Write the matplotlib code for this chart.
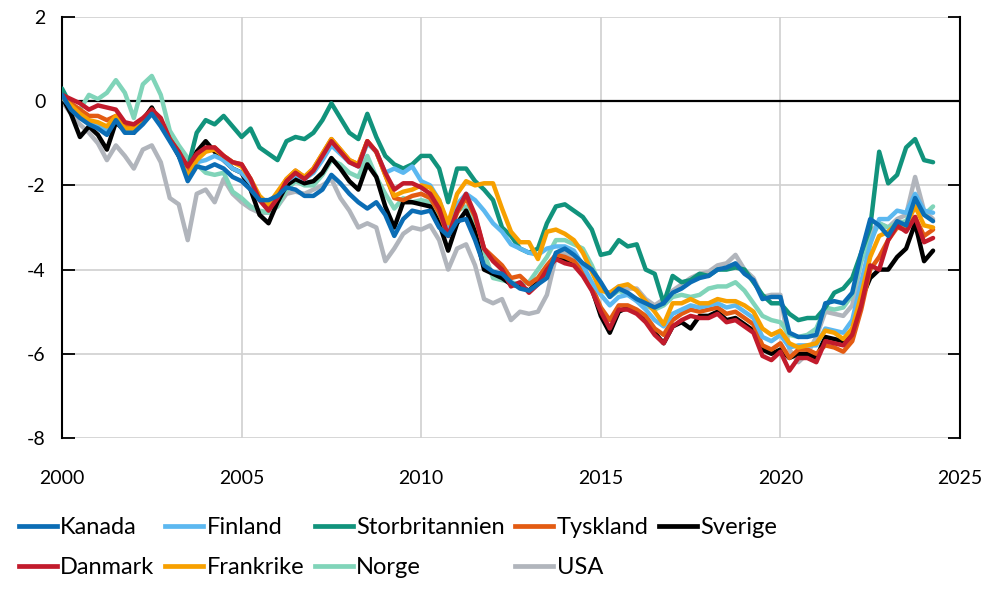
import numpy as np
import matplotlib
matplotlib.use("Agg")
import matplotlib.pyplot as plt
from matplotlib.lines import Line2D

# kvartalsvärden, 2000K1 .. 2024K2
quarters = 2000 + np.arange(98) / 4

kanada = [0.15, -0.2, -0.4, -0.55,  -0.65, -0.8, -0.45, -0.75,  -0.75, -0.55, -0.3, -0.6,
          -0.95, -1.3, -1.9, -1.55,  -1.6, -1.5, -1.6, -1.8,  -1.9, -2.1, -2.35, -2.35,
          -2.25, -2.05, -2.1, -2.25,  -2.25, -2.1, -1.75, -1.95,  -2.2, -2.4, -2.55, -2.4,
          -2.7, -3.2, -2.8, -2.6,  -2.65, -2.6, -3.0, -3.2,  -2.85, -2.8, -3.3, -3.9,
          -4.05, -4.1, -4.3, -4.45,  -4.5, -4.35, -4.2, -3.6,  -3.5, -3.65, -3.85, -4.0,
          -4.3, -4.65, -4.45, -4.55,  -4.7, -4.8, -4.9, -4.8,  -4.55, -4.45, -4.3, -4.2,
          -4.15, -4.0, -3.95, -3.85,  -4.1, -4.25, -4.7, -4.65,  -4.65, -5.5, -5.6, -5.6,
          -5.55, -4.8, -4.75, -4.8,  -4.55, -3.6, -2.8, -2.95,  -3.2, -2.85, -2.95, -2.3,
          -2.7, -2.85]

finland = [0.1, -0.15, -0.35, -0.5,  -0.55, -0.7, -0.4, -0.7,  -0.7, -0.5, -0.25, -0.55,
           -0.9, -1.25, -1.8, -1.45,  -1.4, -1.3, -1.4, -1.6,  -1.7, -1.95, -2.3, -2.4,
           -2.2, -1.9, -1.75, -1.85,  -1.7, -1.4, -1.05, -1.25,  -1.45, -1.55, -1.0, -1.2,
           -1.7, -1.6, -1.7, -1.55,  -1.9, -2.0, -2.35, -3.0,  -2.45, -2.2, -2.35, -2.6,
           -2.9, -3.1, -3.4, -3.5,  -3.6, -3.65, -3.5, -3.45,  -3.45, -3.55, -3.9, -4.3,
           -4.6, -4.85, -4.65, -4.6,  -4.75, -4.95, -5.2, -5.35,  -5.05, -4.95, -4.85, -4.9,
           -4.85, -4.8, -4.9, -4.85,  -5.0, -5.15, -5.6, -5.7,  -5.55, -5.85, -5.8, -5.8,
           -5.8, -5.4, -5.45, -5.5,  -5.2, -4.3, -3.4, -2.8,  -2.8, -2.6, -2.65, -2.2,
           -2.6, -2.65]

storbritannien = [0.3, -0.1, -0.3, -0.5,  -0.6, -0.7, -0.4, -0.65,  -0.7, -0.5, -0.25, -0.55,
                  -0.9, -1.25, -1.6, -0.75,  -0.45, -0.55, -0.35, -0.6,  -0.85, -0.65, -1.1, -1.25,
                  -1.4, -0.95, -0.85, -0.9,  -0.75, -0.45, -0.05, -0.4,  -0.75, -0.9, -0.3, -0.85,
                  -1.3, -1.5, -1.6, -1.5,  -1.3, -1.3, -1.6, -2.4,  -1.6, -1.6, -1.9, -2.1,
                  -2.35, -3.0, -3.2, -3.5,  -3.6, -3.5, -2.9, -2.5,  -2.45, -2.6, -2.75, -3.05,
                  -3.65, -3.6, -3.3, -3.45,  -3.4, -4.0, -4.1, -4.8,  -4.15, -4.3, -4.25, -4.1,
                  -4.15, -4.0, -4.0, -3.95,  -4.0, -4.3, -4.6, -4.8,  -4.8, -5.05, -5.2, -5.15,
                  -5.15, -4.9, -4.55, -4.45,  -4.2, -3.6, -3.0, -1.2,  -1.95, -1.75, -1.1, -0.9,
                  -1.4, -1.45]

tyskland = [0.1, -0.05, -0.2, -0.35,  -0.35, -0.45, -0.35, -0.6,  -0.6, -0.45, -0.2, -0.45,
            -0.9, -1.2, -1.65, -1.3,  -1.15, -1.1, -1.3, -1.45,  -1.5, -1.85, -2.3, -2.5,
            -2.2, -1.85, -1.65, -1.8,  -1.6, -1.25, -0.9, -1.15,  -1.4, -1.5, -0.95, -1.2,
            -1.75, -2.3, -2.35, -2.25,  -2.2, -2.3, -2.65, -3.2,  -2.65, -2.3, -2.75, -3.5,
            -3.7, -3.9, -4.2, -4.15,  -4.35, -4.2, -3.9, -3.65,  -3.7, -3.8, -4.05, -4.4,
            -4.9, -5.2, -4.85, -4.85,  -4.95, -5.1, -5.4, -5.55,  -5.2, -5.05, -4.95, -5.0,
            -4.95, -4.9, -5.05, -5.0,  -5.15, -5.3, -5.8, -5.9,  -5.75, -6.1, -5.9, -5.9,
            -6.0, -5.8, -5.85, -5.95,  -5.7, -4.95, -4.0, -3.7,  -3.3, -3.0, -3.05, -2.75,
            -3.2, -3.05]

sverige = [0.1, -0.3, -0.85, -0.6,  -0.8, -1.15, -0.5, -0.7,  -0.75, -0.45, -0.15, -0.55,
           -0.9, -1.3, -1.75, -1.2,  -0.95, -1.2, -1.4, -1.6,  -1.7, -2.1, -2.7, -2.9,
           -2.4, -2.0, -1.85, -1.95,  -1.9, -1.7, -1.35, -1.6,  -1.9, -2.1, -1.5, -1.8,
           -2.5, -3.0, -2.4, -2.4,  -2.45, -2.5, -2.9, -3.55,  -2.9, -2.6, -3.1, -4.0,
           -4.1, -4.2, -4.35, -4.4,  -4.5, -4.3, -4.0, -3.7,  -3.75, -3.85, -4.1, -4.45,
           -5.1, -5.5, -5.0, -4.9,  -5.0, -5.2, -5.5, -5.75,  -5.35, -5.25, -5.4, -5.1,
           -5.1, -5.0, -5.2, -5.15,  -5.3, -5.45, -5.9, -6.0,  -5.9, -6.1, -6.0, -6.0,
           -6.1, -5.6, -5.65, -5.7,  -5.45, -4.7, -4.2, -4.0,  -4.0, -3.7, -3.5, -2.9,
           -3.8, -3.55]

danmark = [0.15, 0.05, -0.05, -0.2,  -0.1, -0.15, -0.2, -0.5,  -0.55, -0.4, -0.2, -0.4,
           -0.9, -1.2, -1.55, -1.25,  -1.1, -1.1, -1.3, -1.45,  -1.5, -1.85, -2.35, -2.6,
           -2.3, -1.9, -1.7, -1.85,  -1.65, -1.3, -0.95, -1.2,  -1.45, -1.55, -0.95, -1.2,
           -1.7, -2.1, -1.95, -1.95,  -2.05, -2.2, -2.55, -3.2,  -2.6, -2.2, -2.7, -3.5,
           -3.8, -4.0, -4.4, -4.3,  -4.55, -4.35, -4.0, -3.75,  -3.85, -3.9, -4.15, -4.5,
           -5.0, -5.4, -4.95, -4.95,  -5.05, -5.25, -5.55, -5.75,  -5.35, -5.2, -5.1, -5.15,
           -5.15, -5.05, -5.25, -5.2,  -5.35, -5.5, -6.05, -6.15,  -5.95, -6.4, -6.1, -6.1,
           -6.2, -5.7, -5.75, -5.8,  -5.55, -4.85, -3.9, -4.0,  -3.3, -2.95, -3.1, -2.75,
           -3.35, -3.25]

frankrike = [0.1, -0.1, -0.3, -0.45,  -0.5, -0.6, -0.35, -0.65,  -0.65, -0.5, -0.25, -0.5,
             -0.9, -1.25, -1.8, -1.4,  -1.2, -1.15, -1.3, -1.45,  -1.55, -1.85, -2.25, -2.45,
             -2.15, -1.85, -1.65, -1.8,  -1.6, -1.25, -0.9, -1.15,  -1.4, -1.5, -0.95, -1.2,
             -1.75, -2.25, -2.15, -2.1,  -2.0, -2.05, -2.35, -2.9,  -2.2, -1.9, -2.0, -1.95,
             -1.95, -2.55, -3.1, -3.35,  -3.35, -3.75, -3.1, -3.05,  -3.15, -3.3, -3.6, -4.05,
             -4.5, -4.55, -4.4, -4.35,  -4.5, -4.75, -5.0, -5.3,  -4.8, -4.8, -4.7, -4.8,
             -4.8, -4.7, -4.75, -4.75,  -4.85, -5.0, -5.4, -5.55,  -5.45, -5.75, -5.85, -5.8,
             -5.75, -5.45, -5.5, -5.65,  -5.4, -4.6, -3.7, -3.2,  -3.1, -2.9, -2.95, -2.5,
             -2.95, -3.0]

norge = [0.2, -0.1, -0.2, 0.15,  0.05, 0.2, 0.5, 0.2,  -0.4, 0.4, 0.6, 0.15,
         -0.7, -1.05, -1.35, -1.5,  -1.7, -1.75, -1.7, -2.15,  -2.3, -2.5, -2.6, -2.65,
         -2.5, -2.1, -1.9, -2.0,  -2.0, -1.75, -1.4, -1.5,  -1.7, -1.8, -1.3, -1.8,
         -2.2, -2.55, -2.3, -2.4,  -2.35, -2.4, -2.7, -3.1,  -2.6, -2.5, -3.0, -3.6,
         -4.2, -4.25, -4.3, -4.35,  -4.3, -4.0, -3.7, -3.3,  -3.3, -3.4, -3.5, -3.9,
         -4.4, -4.65, -4.5, -4.6,  -4.7, -4.85, -4.95, -4.85,  -4.65, -4.6, -4.65, -4.6,
         -4.45, -4.4, -4.4, -4.3,  -4.5, -4.8, -5.1, -5.2,  -5.25, -5.55, -5.6, -5.55,
         -5.4, -4.9, -4.95, -4.9,  -4.6, -3.8, -3.3, -2.9,  -3.0, -2.9, -2.85, -2.4,
         -2.7, -2.5]

usa = [0.0, -0.3, -0.55, -0.75,  -1.0, -1.4, -1.05, -1.3,  -1.6, -1.15, -1.05, -1.45,
       -2.3, -2.45, -3.3, -2.2,  -2.1, -2.4, -1.85, -2.2,  -2.4, -2.55, -2.65, -2.65,
       -2.5, -2.2, -2.15, -2.2,  -2.1, -2.0, -1.85, -2.3,  -2.6, -3.0, -2.9, -3.0,
       -3.8, -3.5, -3.15, -3.0,  -3.05, -2.95, -3.3, -4.0,  -3.5, -3.4, -3.9, -4.7,
       -4.8, -4.7, -5.2, -5.0,  -5.05, -5.0, -4.6, -3.7,  -3.6, -3.75, -3.9, -4.0,
       -4.4, -4.6, -4.4, -4.45,  -4.45, -4.7, -4.85, -4.7,  -4.5, -4.35, -4.2, -4.1,
       -4.05, -3.9, -3.85, -3.65,  -4.0, -4.2, -4.65, -4.6,  -4.6, -5.9, -6.2, -6.0,
       -5.6, -5.0, -5.05, -5.1,  -4.85, -3.8, -3.1, -2.9,  -3.0, -2.8, -2.7, -1.8,
       -2.6, -2.8]

# namn, värden, färg, ritordning
series = [
    ("Kanada", kanada, "#0b6db5", 10),
    ("Finland", finland, "#5cb8f0", 7),
    ("Storbritannien", storbritannien, "#11937c", 4),
    ("Tyskland", tyskland, "#e35b12", 6),
    ("Sverige", sverige, "#000000", 5),
    ("Danmark", danmark, "#c21b2c", 9),
    ("Frankrike", frankrike, "#f7a000", 8),
    ("Norge", norge, "#80d4b9", 3),
    ("USA", usa, "#b1b5bc", 2),
]

year_ticks = [2000, 2005, 2010, 2015, 2020, 2025]
value_ticks = [-8, -6, -4, -2, 0, 2]

plt.rcParams["font.family"] = ["Lato", "DejaVu Sans"]
plt.rcParams["axes.unicode_minus"] = False

fig = plt.figure(figsize=(10, 6), dpi=100)
ax = fig.add_axes([0.062, 0.27, 0.898, 0.7017])

handles = {}
for name, values, color, z in series:
    line, = ax.plot(quarters, values, color=color, lw=3.2, zorder=z,
                    solid_joinstyle="round", solid_capstyle="round")
    handles[name] = line

ax.axhline(0, color="black", lw=1.6, zorder=1.5)

ax.set_xlim(2000, 2025)
ax.set_ylim(-8, 2)
ax.set_xticks(year_ticks)
ax.set_yticks(value_ticks)
ax.grid(True, color="#d0d0d0", lw=1.2, zorder=0)
ax.set_axisbelow(True)

for side in ["top", "bottom"]:
    ax.spines[side].set_visible(False)
for side in ["left", "right"]:
    ax.spines[side].set_color("black")
    ax.spines[side].set_linewidth(1.5)

ax.tick_params(axis="x", length=0, pad=23, labelsize=14)
ax.tick_params(axis="y", direction="in", length=9, width=1.3, pad=12,
               labelsize=14, left=True, right=True)

# kolumnvis ordning så att raderna blir som i förlagan
order = ["Kanada", "Danmark", "Finland", "Frankrike", "Storbritannien",
         "Norge", "Tyskland", "USA", "Sverige"]
leg_handles = [Line2D([], [], color=handles[n].get_color(), lw=3.4) for n in order]
fig.legend(leg_handles, order, ncol=5, loc="upper left",
           bbox_to_anchor=(0.019, 0.138), frameon=False, fontsize=17,
           handlelength=1.6, handletextpad=0.15, columnspacing=0.45,
           labelspacing=0.8, borderpad=0, borderaxespad=0)

fig.savefig("out.png", dpi=100)
